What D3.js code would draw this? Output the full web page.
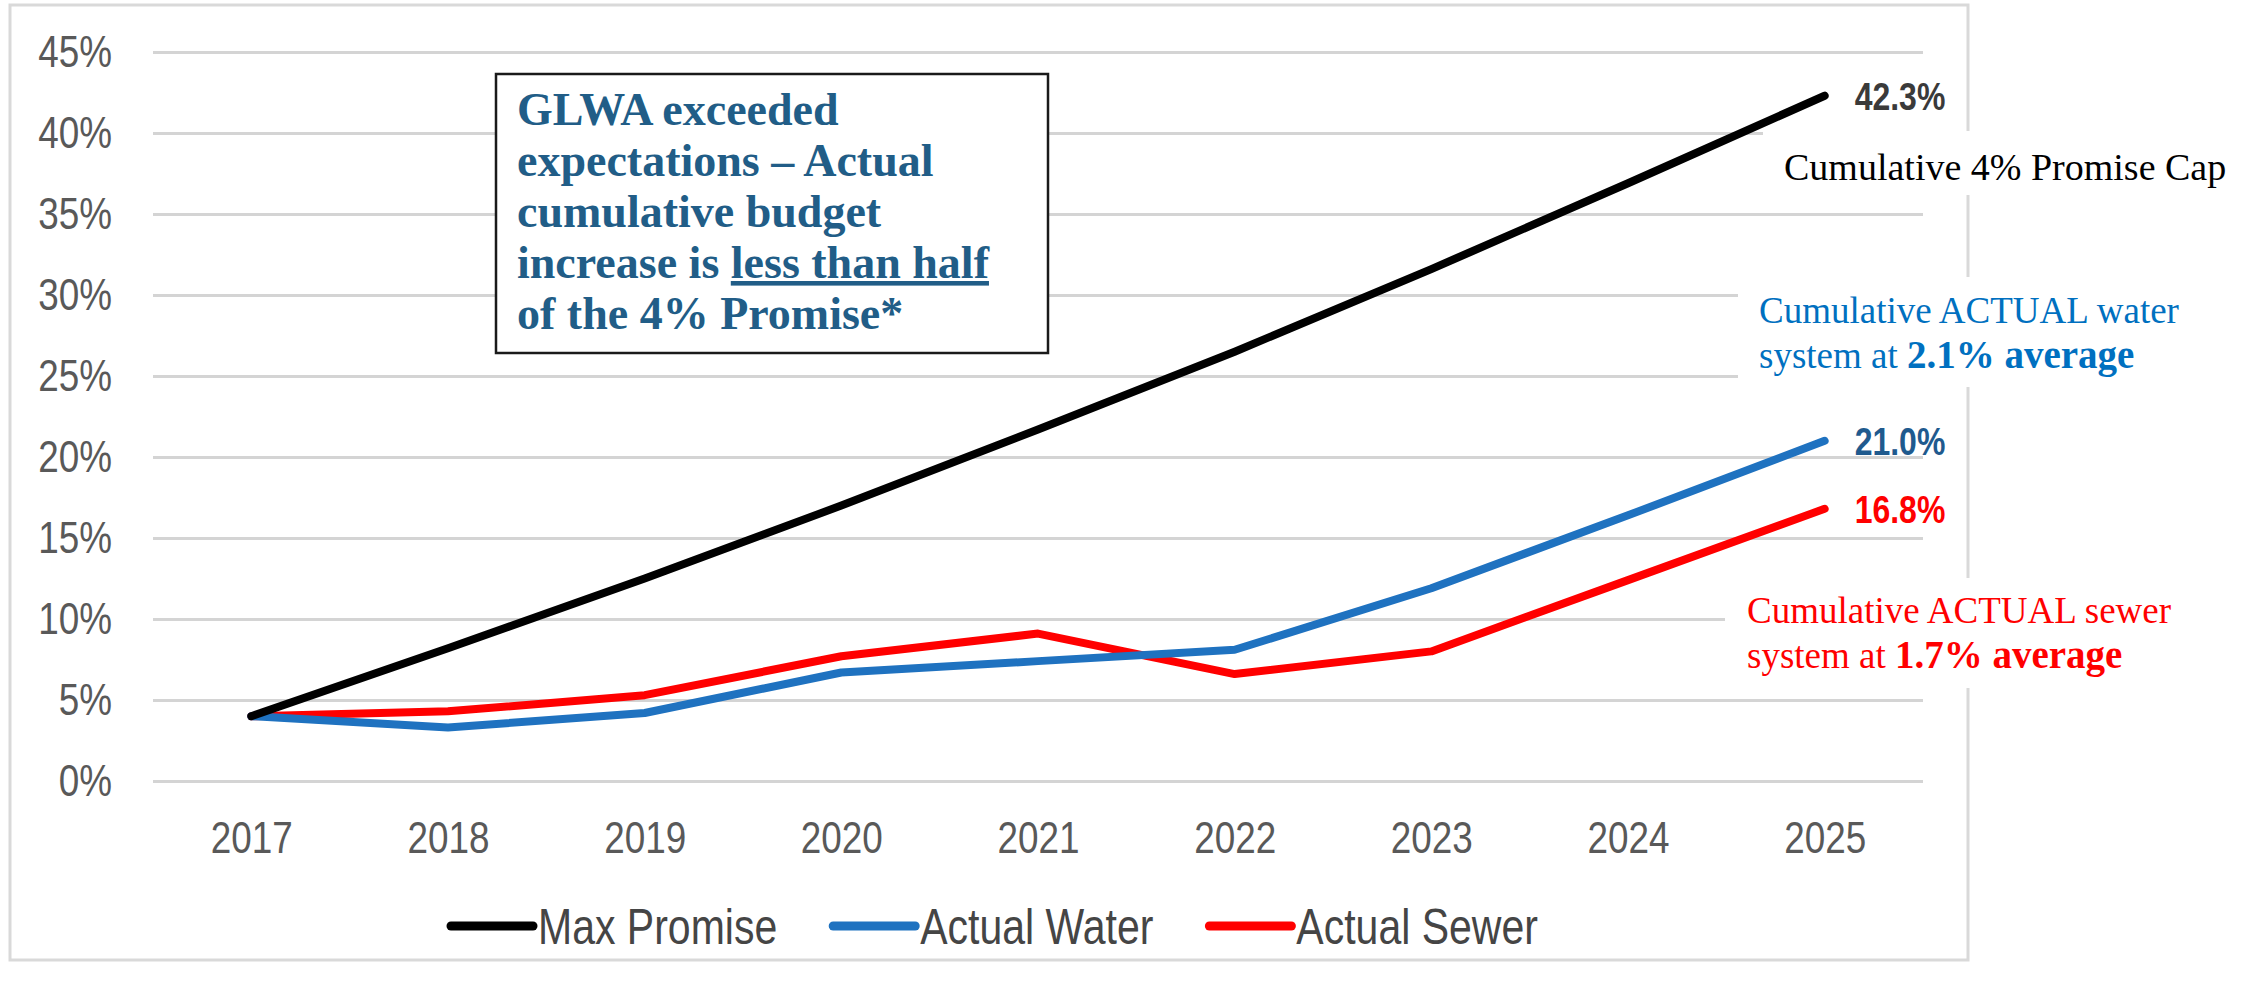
<!DOCTYPE html>
<html>
<head>
<meta charset="utf-8">
<script src="https://cdn.jsdelivr.net/npm/d3@7"></script>
<style>
  html, body { margin: 0; padding: 0; background: #ffffff; }
  svg { display: block; }
</style>
</head>
<body>
<svg id="chart" width="2258" height="983"></svg>
<script>
// ---------------- data ----------------
const years = ["2017", "2018", "2019", "2020", "2021", "2022", "2023", "2024", "2025"];
const maxPromise = [4.0, 8.2, 12.5, 17.0, 21.7, 26.5, 31.6, 36.9, 42.3];
const actualWater = [4.0, 3.3, 4.2, 6.7, 7.4, 8.1, 11.9, 16.4, 21.0];
const actualSewer = [4.0, 4.3, 5.3, 7.7, 9.1, 6.6, 8.0, 12.4, 16.8];
const yTicks = [0, 5, 10, 15, 20, 25, 30, 35, 40, 45];
const seriesNames = ["Max Promise", "Actual Water", "Actual Sewer"];
const endLabels = ["42.3%", "21.0%", "16.8%"];

// ---------------- setup ----------------
const svg = d3.select("#chart");
const colors = ["#000000", "#1f72c0", "#ff0000"];
const labelColors = ["#3a3a3a", "#1f5a8e", "#ff0000"];
const series = [maxPromise, actualWater, actualSewer].map((vals, i) => ({
  name: seriesNames[i], values: vals, color: colors[i], labelColor: labelColors[i], endLabel: endLabels[i]
}));

const sans = "'Liberation Sans', Arial, sans-serif";
const serif = "'Liberation Serif', Cambria, 'Times New Roman', serif";
const narrow = 0.82; // emulate Arial Narrow

const plot = { left: 153, right: 1923, top: 52, bottom: 781 };
const x = d3.scalePoint().domain(years).range([plot.left, plot.right]).padding(0.5);
const y = d3.scaleLinear().domain([0, 45]).range([plot.bottom, plot.top]);

// outer frame
svg.append("rect")
  .attr("x", 10).attr("y", 5).attr("width", 1958).attr("height", 955)
  .attr("fill", "#ffffff").attr("stroke", "#d9d9d9").attr("stroke-width", 3);

// y axis with gridlines
const yPad = 41;
const yAxis = d3.axisLeft(y)
  .tickValues(yTicks)
  .tickFormat(d => d + "%")
  .tickSize(-(plot.right - plot.left))
  .tickPadding(yPad);
const gy = svg.append("g").attr("transform", `translate(${plot.left},0)`).call(yAxis);
gy.select(".domain").remove();
gy.selectAll(".tick line").attr("stroke", "#d4d4d4").attr("stroke-width", 3);
gy.selectAll(".tick text")
  .attr("fill", "#595959")
  .attr("x", -yPad / narrow)
  .attr("transform", `scale(${narrow},1)`)
  .style("font-family", sans)
  .style("font-size", "45px");

// x axis
const xAxis = d3.axisBottom(x).tickSize(0).tickPadding(40);
const gx = svg.append("g").attr("transform", `translate(0,${plot.bottom})`).call(xAxis);
gx.select(".domain").remove();
gx.selectAll(".tick text")
  .attr("fill", "#595959")
  .attr("transform", `scale(${narrow},1)`)
  .style("font-family", sans)
  .style("font-size", "45px");

// lines
const line = d3.line()
  .x((d, i) => x(years[i]))
  .y(d => y(d));

svg.append("g").selectAll("path")
  .data(series.slice().reverse())
  .join("path")
  .attr("d", d => line(d.values))
  .attr("fill", "none")
  .attr("stroke", d => d.color)
  .attr("stroke-width", 8)
  .attr("stroke-linejoin", "round")
  .attr("stroke-linecap", "round");

// end data labels
svg.append("g").selectAll("g")
  .data(series)
  .join("g")
  .attr("transform", d => `translate(${x(years[years.length - 1]) + 30},${y(d.values[d.values.length - 1])}) scale(${narrow},1)`)
  .append("text")
  .attr("dy", "0.36em")
  .attr("fill", d => d.labelColor)
  .style("font-family", sans)
  .style("font-weight", "bold")
  .style("font-size", "39px")
  .text(d => d.endLabel);

// legend
const legend = svg.append("g");
let lx = 451;
const ly = 926;
series.forEach((s, i) => {
  legend.append("line")
    .attr("x1", lx).attr("x2", lx + 82).attr("y1", ly).attr("y2", ly)
    .attr("stroke", s.color).attr("stroke-width", 9).attr("stroke-linecap", "round");
  const g = legend.append("g").attr("transform", `translate(${lx + 87},${ly}) scale(${narrow},1)`);
  const t = g.append("text")
    .attr("dy", "0.36em")
    .attr("fill", "#454545")
    .style("font-family", sans)
    .style("font-size", "50px")
    .text(s.name);
  const w = t.node().getComputedTextLength() * narrow;
  lx = lx + 87 + w + 56;
});

// ---------------- annotations ----------------
// GLWA callout box
svg.append("rect")
  .attr("x", 496).attr("y", 74).attr("width", 552).attr("height", 279)
  .attr("fill", "#ffffff").attr("stroke", "#1a1a1a").attr("stroke-width", 2.5);

const boxLines = [
  [{ t: "GLWA exceeded" }],
  [{ t: "expectations \u2013 Actual" }],
  [{ t: "cumulative budget" }],
  [{ t: "increase is " }, { t: "less than half", u: true }],
  [{ t: "of the 4% Promise*" }]
];
const boxText = svg.append("text")
  .attr("fill", "#215d87")
  .style("font-family", serif)
  .style("font-weight", "bold")
  .style("font-size", "46px");
boxLines.forEach((parts, i) => {
  parts.forEach((p, j) => {
    const ts = boxText.append("tspan").text(p.t);
    if (j === 0) ts.attr("x", 517).attr("y", 125 + i * 51);
    if (p.u) ts.style("text-decoration", "underline");
  });
});

// right-side annotations with white backgrounds
svg.append("rect").attr("x", 1763).attr("y", 131).attr("width", 495).attr("height", 64).attr("fill", "#ffffff");
svg.append("rect").attr("x", 1738).attr("y", 277).attr("width", 520).attr("height", 110).attr("fill", "#ffffff");
svg.append("rect").attr("x", 1725).attr("y", 578).attr("width", 533).attr("height", 110).attr("fill", "#ffffff");

svg.append("text")
  .attr("x", 1784).attr("y", 180)
  .attr("fill", "#000000")
  .style("font-family", serif)
  .style("font-size", "38px")
  .text("Cumulative 4% Promise Cap");

function twoLine(xp, y1, y2, color, line1, pre, boldPart) {
  const t = svg.append("text")
    .attr("fill", color)
    .style("font-family", serif)
    .style("font-size", "37px");
  t.append("tspan").attr("x", xp).attr("y", y1).text(line1);
  t.append("tspan").attr("x", xp).attr("y", y2).text(pre);
  t.append("tspan").style("font-weight", "bold").style("font-size", "39px").text(boldPart);
}
twoLine(1759, 323, 368, "#0070c0", "Cumulative ACTUAL water", "system at ", "2.1% average");
twoLine(1747, 623, 668, "#ff0000", "Cumulative ACTUAL sewer", "system at ", "1.7% average");
</script>
</body>
</html>
